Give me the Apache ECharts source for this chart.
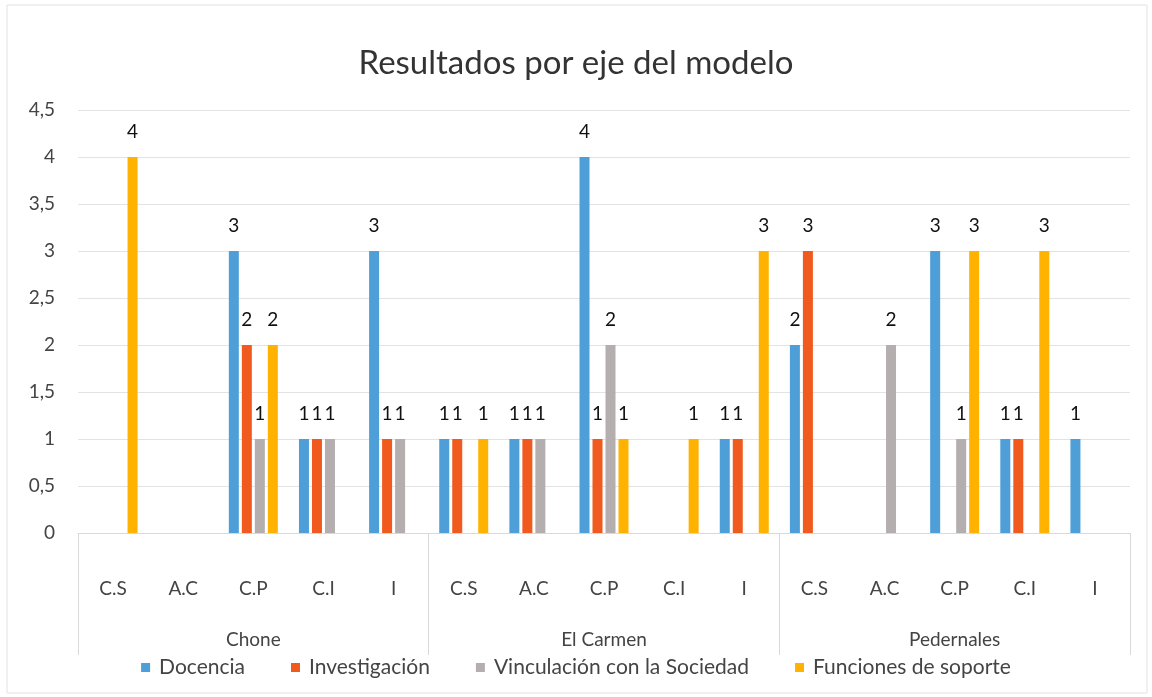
<!DOCTYPE html>
<html>
<head>
<meta charset="utf-8">
<script src="https://cdn.jsdelivr.net/npm/echarts@6/dist/echarts.min.js"></script>
<style>
  html, body { margin: 0; padding: 0; background: #fff; }
  #chart { width: 1152px; height: 697px; }
</style>
</head>
<body>
<div id="chart"></div>
<script>
// datos
const sedes = ["Chone", "El Carmen", "Pedernales"];
const ejes = ["C.S", "A.C", "C.P", "C.I", "I"];
const yTicks = [0, 0.5, 1, 1.5, 2, 2.5, 3, 3.5, 4, 4.5];

const docencia      = [null, null, 3, 1, 3,    1, 1, 4, null, 1,    2, null, 3, 1, 1];
const investigacion = [null, null, 2, 1, 1,    1, 1, 1, null, 1,    3, null, null, 1, null];
const vinculacion   = [null, null, 1, 1, 1,    null, 1, 2, null, null,  null, 2, 1, null, null];
const funciones     = [4, null, 2, null, null,  1, null, 1, 1, 3,    null, null, 3, 3, null];

const serieNames = ["Docencia", "Investigación", "Vinculación con la Sociedad", "Funciones de soporte"];
const colors = ["#4E9FD8", "#F05A1E", "#B4AEAE", "#FFB200"];

const categories = sedes.flatMap(() => ejes);
const font = "Lato, 'Open Sans', sans-serif";

const chart = echarts.init(document.getElementById("chart"));

const makeSeries = (name, data, i) => ({
    name: name,
    type: "bar",
    data: data,
    barWidth: 10,
    barGap: "30%",
    itemStyle: { color: colors[i] },
    label: {
        show: true,
        position: "top",
        distance: 16,
        color: "#111",
        fontSize: 19,
        fontFamily: font,
    },
});

const option = {
    animation: false,
    title: {
        text: "Resultados por eje del modelo",
        left: "center",
        top: 42,
        textStyle: { fontSize: 33, fontWeight: "normal", color: "#333", fontFamily: font },
    },
    legend: {
        data: serieNames,
        top: 652,
        left: "center",
        icon: "rect",
        itemWidth: 9,
        itemHeight: 9,
        itemGap: 46,
        textStyle: { fontSize: 21, color: "#444", fontFamily: font, padding: [0, 0, 0, 4] },
    },
    graphic: [{
        type: "rect",
        shape: { x: 7, y: 5, width: 1140, height: 688 },
        style: { fill: "none", stroke: "#e2e2e2", lineWidth: 1 },
        silent: true,
    }],
    grid: { left: 78, right: 22, top: 110, bottom: 164 },
    xAxis: [
        {
            type: "category",
            data: categories,
            axisLine: { lineStyle: { color: "#d9d9d9" } },
            axisTick: { show: false },
            axisLabel: { interval: 0, margin: 46, fontSize: 19, color: "#444", fontFamily: font },
        },
        {
            type: "category",
            data: sedes,
            position: "bottom",
            axisLine: { show: false },
            axisTick: { show: true, interval: 0, length: 122, lineStyle: { color: "#d9d9d9" } },
            axisLabel: { interval: 0, margin: 97, fontSize: 19, color: "#444", fontFamily: font },
        },
    ],
    yAxis: {
        type: "value",
        min: yTicks[0],
        max: yTicks[yTicks.length - 1],
        interval: 0.5,
        axisLine: { show: false },
        axisTick: { show: false },
        splitLine: { lineStyle: { color: "#e3e3e3" } },
        axisLabel: {
            margin: 23,
            fontSize: 19,
            color: "#444",
            fontFamily: font,
            formatter: (v) => String(v).replace(".", ","),
        },
    },
    series: [
        makeSeries(serieNames[0], docencia, 0),
        makeSeries(serieNames[1], investigacion, 1),
        makeSeries(serieNames[2], vinculacion, 2),
        makeSeries(serieNames[3], funciones, 3),
    ],
};

chart.setOption(option);
</script>
</body>
</html>
